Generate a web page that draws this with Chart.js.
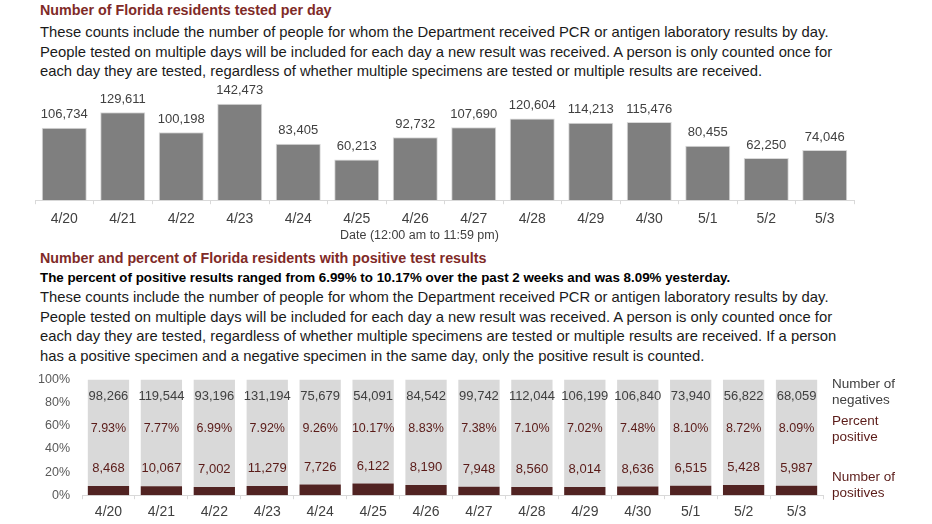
<!DOCTYPE html>
<html>
<head>
<meta charset="utf-8">
<script src="https://cdn.jsdelivr.net/npm/chart.js@4/dist/chart.umd.min.js"></script>
<style>
  html, body { margin:0; padding:0; background:#fff; }
  body { width:932px; height:524px; position:relative; overflow:hidden; font-family:"Liberation Sans", Arial, sans-serif; color:#1a1a1a; }
  .t { position:absolute; white-space:nowrap; }
  .title { left:40px; font-size:14.3px; font-weight:bold; color:#7F2A27; line-height:20px; }
  .para { left:40px; font-size:14.8px; line-height:19.5px; color:#1a1a1a; }
  .bold { left:40px; font-size:13.35px; font-weight:bold; line-height:20px; color:#000; }
  .lg { left:832px; font-size:13.5px; line-height:15.5px; }
  canvas { position:absolute; }
</style>
</head>
<body>
<div class="t title" style="top:0px">Number of Florida residents tested per day</div>
<div class="t para" style="top:23px">These counts include the number of people for whom the Department received PCR or antigen laboratory results by day.<br>People tested on multiple days will be included for each day a new result was received. A person is only counted once for<br>each day they are tested, regardless of whether multiple specimens are tested or multiple results are received.</div>
<canvas id="c1" width="932" height="155" style="left:0;top:80px;width:932px;height:155px"></canvas>
<div class="t" style="left:340px;top:227px;font-size:12.5px;line-height:16px;color:#404040">Date (12:00 am to 11:59 pm)</div>

<div class="t title" style="top:248px">Number and percent of Florida residents with positive test results</div>
<div class="t bold" style="top:268px">The percent of positive results ranged from 6.99% to 10.17% over the past 2 weeks and was 8.09% yesterday.</div>
<div class="t para" style="top:288px">These counts include the number of people for whom the Department received PCR or antigen laboratory results by day.<br>People tested on multiple days will be included for each day a new result was received. A person is only counted once for<br>each day they are tested, regardless of whether multiple specimens are tested or multiple results are received. If a person<br>has a positive specimen and a negative specimen in the same day, only the positive result is counted.</div>

<canvas id="c2" width="932" height="166" style="left:0;top:360px;width:932px;height:166px"></canvas>
<div class="t lg" style="top:376px;color:#404040">Number of<br>negatives</div>
<div class="t lg" style="top:413px;color:#5A1B18">Percent<br>positive</div>
<div class="t lg" style="top:469px;color:#5A1B18">Number of<br>positives</div>

<script>
const dates = ["4/20","4/21","4/22","4/23","4/24","4/25","4/26","4/27","4/28","4/29","4/30","5/1","5/2","5/3"];
const tested = [106734,129611,100198,142473,83405,60213,92732,107690,120604,114213,115476,80455,62250,74046];
const negatives = [98266,119544,93196,131194,75679,54091,84542,99742,112044,106199,106840,73940,56822,68059];
const positives = [8468,10067,7002,11279,7726,6122,8190,7948,8560,8014,8636,6515,5428,5987];
const percentPositive = [7.93,7.77,6.99,7.92,9.26,10.17,8.83,7.38,7.10,7.02,7.48,8.10,8.72,8.09];
const yTicks2 = [0,20,40,60,80,100];

const FONT = "Liberation Sans";
const fmt = v => v.toLocaleString("en-US");

// Chart 1
const labels1 = {
  id: "labels1",
  afterDatasetsDraw(chart) {
    const ctx = chart.ctx;
    const meta = chart.getDatasetMeta(0);
    ctx.save();
    ctx.font = "13px " + FONT;
    ctx.fillStyle = "#404040";
    ctx.textAlign = "center";
    ctx.textBaseline = "middle";
    meta.data.forEach((bar, i) => {
      ctx.fillText(fmt(tested[i]), bar.x, bar.y - 13);
    });
    ctx.restore();
  }
};

new Chart(document.getElementById("c1"), {
  type: "bar",
  data: {
    labels: dates,
    datasets: [{ data: tested, backgroundColor: "#7F7F7F", borderColor: "#D9D9D9", borderWidth: 1, categoryPercentage: 1, barPercentage: 0.77 }]
  },
  options: {
    responsive: false, animation: false,
    layout: { padding: { left: 35, right: 78, top: 5, bottom: 0 } },
    plugins: { legend: { display: false }, tooltip: { enabled: false } },
    scales: {
      x: {
        grid: { display: true, drawOnChartArea: false, drawTicks: true, tickLength: 4, color: "#D9D9D9", offset: true },
        border: { display: true, color: "#D9D9D9", width: 1 },
        ticks: { color: "#404040", font: { family: FONT, size: 14 }, padding: 7 }
      },
      y: { display: false, min: 0, max: 170000 }
    }
  },
  plugins: [labels1]
});

// Chart 2
const pctPosBar = positives.map((p, i) => p / (p + negatives[i]) * 100);
const pctNegBar = pctPosBar.map(p => 100 - p);

const labels2 = {
  id: "labels2",
  afterDatasetsDraw(chart) {
    const ctx = chart.ctx;
    const xs = chart.scales.x, ys = chart.scales.y;
    ctx.save();
    ctx.textAlign = "center";
    ctx.textBaseline = "middle";
    dates.forEach((d, i) => {
      const x = xs.getPixelForValue(i);
      ctx.font = "13px " + FONT;
      ctx.fillStyle = "#404040";
      ctx.fillText(fmt(negatives[i]), x, ys.getPixelForValue(85));
      ctx.font = "12.5px " + FONT;
      ctx.fillStyle = "#5A1B18";
      ctx.fillText(percentPositive[i].toFixed(2) + "%", x, ys.getPixelForValue(58));
      ctx.font = "13px " + FONT;
      ctx.fillText(fmt(positives[i]), x, ys.getPixelForValue(percentPositive[i] + 15));
    });
    ctx.restore();
  }
};

new Chart(document.getElementById("c2"), {
  type: "bar",
  data: {
    labels: dates,
    datasets: [
      { data: pctPosBar, backgroundColor: "#512322", categoryPercentage: 1, barPercentage: 0.78 },
      { data: pctNegBar, backgroundColor: "#D9D9D9", categoryPercentage: 1, barPercentage: 0.78 }
    ]
  },
  options: {
    responsive: false, animation: false,
    layout: { padding: { left: 0, right: 109, top: 8, bottom: 0 } },
    plugins: { legend: { display: false }, tooltip: { enabled: false } },
    scales: {
      x: {
        stacked: true,
        grid: { display: true, drawOnChartArea: false, drawTicks: true, tickLength: 4, color: "#D9D9D9", offset: true },
        border: { display: true, color: "#D9D9D9", width: 1 },
        ticks: { color: "#404040", font: { family: FONT, size: 14 }, padding: 5 }
      },
      y: {
        stacked: true, min: 0, max: 100,
        afterBuildTicks(scale) { scale.ticks = yTicks2.map(v => ({ value: v })); },
        afterFit(scale) { scale.width = 82; },
        grid: { display: false, drawTicks: false },
        border: { display: false },
        ticks: { color: "#595959", font: { family: FONT, size: 12.5 }, padding: 12, callback: v => v + "%" }
      }
    }
  },
  plugins: [labels2]
});
</script>
</body>
</html>
